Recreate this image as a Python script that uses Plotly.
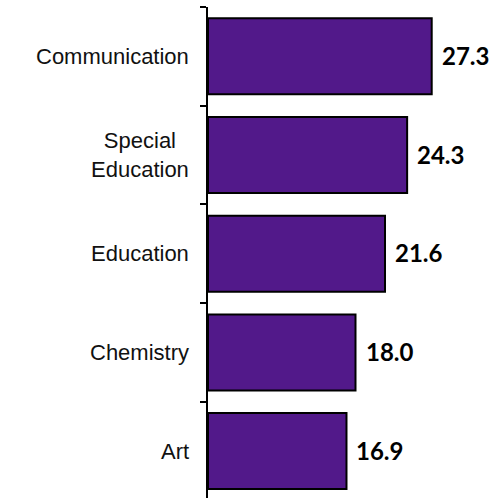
import plotly.graph_objects as go

# Categories listed top to bottom, with their values
categories = ["Communication", "Special<br>Education", "Education", "Chemistry", "Art"]
values = [27.3, 24.3, 21.6, 18.0, 16.9]
value_labels = ["27.3", "24.3", "21.6", "18.0", "16.9"]

bar_color = "#52198A"

fig = go.Figure(
    go.Bar(
        x=values,
        y=list(range(len(categories))),
        orientation="h",
        marker=dict(color=bar_color, line=dict(color="black", width=2)),
        hoverinfo="skip",
    )
)

annotations = []
# Category names, centred block sitting left of the axis
for i, name in enumerate(categories):
    annotations.append(dict(
        x=0, xref="paper", y=i, yref="y",
        text=name, showarrow=False,
        xanchor="right", yanchor="middle", align="center",
        xshift=-17,
        font=dict(family="Liberation Sans, Arial, sans-serif", size=22, color="#111111"),
    ))
# Value labels just past each bar end
for i, (v, lab) in enumerate(zip(values, value_labels)):
    annotations.append(dict(
        x=v, xref="x", y=i, yref="y",
        text="<b>" + lab + "</b>", showarrow=False,
        xanchor="left", yanchor="middle",
        xshift=8, yshift=1,
        font=dict(family="Lato, 'Open Sans', sans-serif", size=24, color="black"),
    ))

fig.update_layout(
    width=503, height=498,
    margin=dict(l=208, r=0, t=7, b=0),
    paper_bgcolor="white", plot_bgcolor="white",
    bargap=0.23,
    showlegend=False,
    annotations=annotations,
    xaxis=dict(range=[0, 36], visible=False, showgrid=False, zeroline=False),
    yaxis=dict(
        range=[4.475, -0.5],
        tickmode="array",
        tickvals=[-0.5, 0.5, 1.5, 2.5, 3.5, 4.5],
        ticktext=[""] * 6,
        ticks="outside", ticklen=6, tickwidth=2, tickcolor="black",
        showline=True, linecolor="black", linewidth=2,
        showgrid=False, zeroline=False,
    ),
)

fig.write_html("out.html")
